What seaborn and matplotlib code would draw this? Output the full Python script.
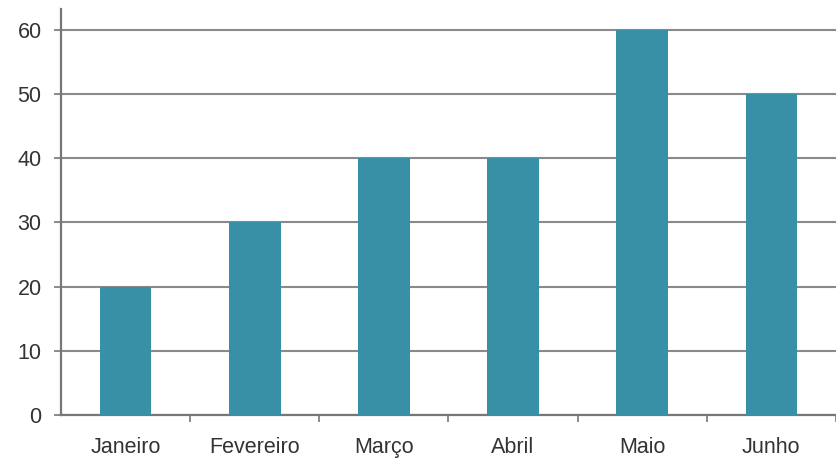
import matplotlib
matplotlib.use("Agg")
import matplotlib.pyplot as plt
import seaborn as sns
import pandas as pd
import numpy as np

months = ["Janeiro", "Fevereiro", "Março", "Abril", "Maio", "Junho"]
values = [20, 30, 40, 40, 60, 50]
yticks = [0, 10, 20, 30, 40, 50, 60]

sns.set_style("white")
plt.rcParams['font.family'] = ['Liberation Sans', 'DejaVu Sans']

df = pd.DataFrame({"mes": months, "valor": values})

fig = plt.figure(figsize=(8.36, 4.59), dpi=100)
ax = fig.add_axes([0.073, 0.096, 0.93, 0.884])

sns.barplot(data=df, x="mes", y="valor", color="#3890a6", width=0.4,
            saturation=1, ax=ax, zorder=3, linewidth=0, edgecolor="none")

ax.set_ylim(0, 63.2)
ax.set_xlim(-0.5, 5.52)
ax.set_yticks(yticks)
ax.set_xlabel("")
ax.set_ylabel("")
ax.yaxis.grid(True, color="#8a8a8a", linewidth=1.5, zorder=0)
ax.set_axisbelow(True)

for s in ["top", "right"]:
    ax.spines[s].set_visible(False)
for s in ["left", "bottom"]:
    ax.spines[s].set_color("#777777")
    ax.spines[s].set_linewidth(1.6)

ax.tick_params(axis="y", which="major", length=5, width=1.2, color="#777777",
               labelsize=15.5, labelcolor="#333333", pad=9, direction="out", left=True)
ax.set_xticks(np.arange(len(months)))
ax.set_xticklabels(months)
ax.tick_params(axis="x", which="major", length=0, labelsize=15.5,
               labelcolor="#333333", pad=16)
ax.set_xticks(np.arange(0.5, len(months) - 0.5 + 0.01, 1.0), minor=True)
ax.tick_params(axis="x", which="minor", length=5, width=1.2, color="#777777",
               direction="out", bottom=True)

fig.savefig("out.png", dpi=100)
